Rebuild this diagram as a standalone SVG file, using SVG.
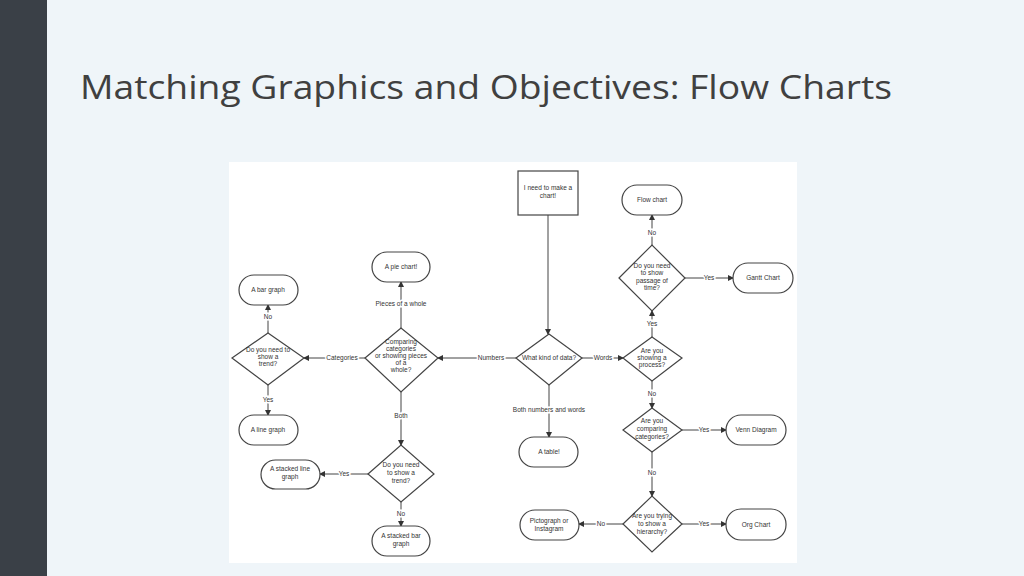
<svg xmlns="http://www.w3.org/2000/svg" width="1024" height="576" viewBox="0 0 1024 576">
<style>
.n{fill:#fff;stroke:#444;stroke-width:1.2}
.c{stroke:#444;stroke-width:1;fill:none}
text{font-family:"Liberation Sans",Arial,sans-serif;font-size:6.5px;fill:#333;text-anchor:middle}
.l{paint-order:stroke;stroke:#fff;stroke-width:3}
</style>
<defs><marker id="a" markerWidth="6" markerHeight="6" refX="5" refY="3" orient="auto" markerUnits="userSpaceOnUse"><path d="M0,0L6,3L0,6z" fill="#333"/></marker></defs>
<rect width="1024" height="576" fill="#eff5f9"/>
<rect width="47" height="576" fill="#3a4047"/>
<text x="80" y="99" textLength="812" lengthAdjust="spacingAndGlyphs" style="font-family:'Open Sans','Liberation Sans',sans-serif;font-size:33px;text-anchor:start;fill:#404040">Matching Graphics and Objectives: Flow Charts</text>
<rect x="229" y="162" width="568" height="401" fill="#fff"/>
<g id="connectors">
<path class="c" d="M548,215V334" marker-end="url(#a)"/>
<path class="c" d="M516,358H438" marker-end="url(#a)"/>
<path class="c" d="M365,358H304" marker-end="url(#a)"/>
<path class="c" d="M401,328V282" marker-end="url(#a)"/>
<path class="c" d="M401,392V445" marker-end="url(#a)"/>
<path class="c" d="M268,333V305" marker-end="url(#a)"/>
<path class="c" d="M268,385V415" marker-end="url(#a)"/>
<path class="c" d="M368,474H320" marker-end="url(#a)"/>
<path class="c" d="M401,502V526" marker-end="url(#a)"/>
<path class="c" d="M582,358H623" marker-end="url(#a)"/>
<path class="c" d="M549,385V437" marker-end="url(#a)"/>
<path class="c" d="M652,337V311" marker-end="url(#a)"/>
<path class="c" d="M652,245V215" marker-end="url(#a)"/>
<path class="c" d="M685,278H733" marker-end="url(#a)"/>
<path class="c" d="M652,381V408" marker-end="url(#a)"/>
<path class="c" d="M682,430H726" marker-end="url(#a)"/>
<path class="c" d="M652,452V496" marker-end="url(#a)"/>
<path class="c" d="M682,524H726" marker-end="url(#a)"/>
<path class="c" d="M623,524H579" marker-end="url(#a)"/>
<text class="l" x="491" y="360">Numbers</text>
<text class="l" x="342" y="360">Categories</text>
<text class="l" x="401" y="306">Pieces of a whole</text>
<text class="l" x="401" y="418">Both</text>
<text class="l" x="268" y="319">No</text>
<text class="l" x="268" y="402">Yes</text>
<text class="l" x="344" y="476">Yes</text>
<text class="l" x="401" y="516">No</text>
<text class="l" x="603" y="360">Words</text>
<text class="l" x="549" y="412">Both numbers and words</text>
<text class="l" x="652" y="326">Yes</text>
<text class="l" x="652" y="235">No</text>
<text class="l" x="709" y="280">Yes</text>
<text class="l" x="652" y="396">No</text>
<text class="l" x="704" y="432">Yes</text>
<text class="l" x="652" y="475">No</text>
<text class="l" x="704" y="526">Yes</text>
<text class="l" x="601" y="526">No</text>
</g>
<g id="start"><rect class="n" x="518" y="171" width="60" height="44"/><text x="548" y="190">I need to make a</text><text x="548" y="198">chart!</text></g>
<g id="kind"><path class="n" d="M516,358L549,334L582,358L549,385z"/><text x="549" y="360">What kind of data?</text></g>
<g id="compare"><path class="n" d="M365,358L401,328L438,358L401,392z"/><text x="401" y="344">Comparing</text><text x="401" y="351">categories</text><text x="401" y="358">or showing pieces</text><text x="401" y="365">of a</text><text x="401" y="372">whole?</text></g>
<g id="pie"><rect class="n" x="372" y="252" width="58" height="30" rx="15"/><text x="401" y="269">A pie chart!</text></g>
<g id="trend1"><path class="n" d="M232,358L268,333L304,358L268,385z"/><text x="268" y="352">Do you need to</text><text x="268" y="359">show a</text><text x="268" y="366">trend?</text></g>
<g id="bar"><rect class="n" x="239" y="275" width="59" height="30" rx="15"/><text x="268" y="292">A bar graph</text></g>
<g id="line"><rect class="n" x="239" y="415" width="59" height="30" rx="15"/><text x="268" y="432">A line graph</text></g>
<g id="trend2"><path class="n" d="M368,474L401,445L434,474L401,502z"/><text x="401" y="467">Do you need</text><text x="401" y="475">to show a</text><text x="401" y="483">trend?</text></g>
<g id="sline"><rect class="n" x="261" y="460" width="59" height="29" rx="14.5"/><text x="290" y="471">A stacked line</text><text x="290" y="479">graph</text></g>
<g id="sbar"><rect class="n" x="372" y="526" width="58" height="30" rx="15"/><text x="401" y="538">A stacked bar</text><text x="401" y="546">graph</text></g>
<g id="table"><rect class="n" x="519" y="437" width="59" height="30" rx="15"/><text x="549" y="454">A table!</text></g>
<g id="process"><path class="n" d="M623,358L652,337L682,358L652,381z"/><text x="652" y="353">Are you</text><text x="652" y="360">showing a</text><text x="652" y="367">process?</text></g>
<g id="time"><path class="n" d="M619,278L652,245L685,278L652,311z"/><text x="652" y="268">Do you need</text><text x="652" y="275">to show</text><text x="652" y="283">passage of</text><text x="652" y="290">time?</text></g>
<g id="flow"><rect class="n" x="622" y="185" width="60" height="30" rx="15"/><text x="652" y="202">Flow chart</text></g>
<g id="gantt"><rect class="n" x="733" y="263" width="60" height="30" rx="15"/><text x="763" y="280">Gantt Chart</text></g>
<g id="cats"><path class="n" d="M623,430L652,408L682,430L652,452z"/><text x="652" y="423">Are you</text><text x="652" y="431">comparing</text><text x="652" y="439">categories?</text></g>
<g id="venn"><rect class="n" x="726" y="415" width="60" height="30" rx="15"/><text x="756" y="432">Venn Diagram</text></g>
<g id="hier"><path class="n" d="M623,524L652,496L682,524L652,552z"/><text x="652" y="518">Are you trying</text><text x="652" y="526">to show a</text><text x="652" y="534">hierarchy?</text></g>
<g id="org"><rect class="n" x="726" y="509" width="60" height="31" rx="15"/><text x="756" y="527">Org Chart</text></g>
<g id="picto"><rect class="n" x="520" y="510" width="59" height="30" rx="15"/><text x="549" y="523">Pictograph or</text><text x="549" y="531">Instagram</text></g>
</svg>
